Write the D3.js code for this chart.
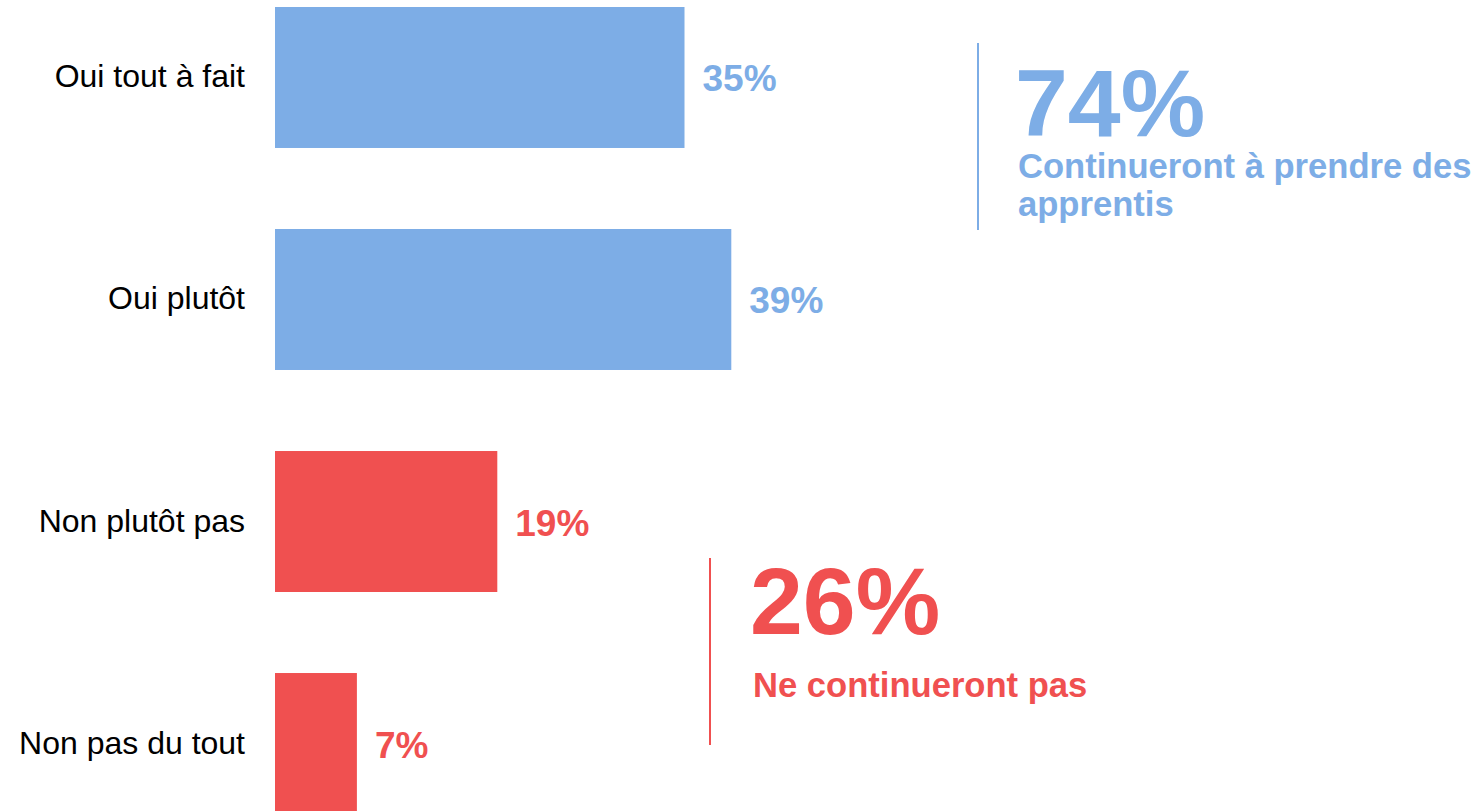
<!DOCTYPE html>
<html>
<head>
<meta charset="utf-8">
<script src="https://cdn.jsdelivr.net/npm/d3@7"></script>
<style>
  body { margin: 0; background: #fff; }
  text { font-family: "Liberation Sans", Arial, sans-serif; }
</style>
</head>
<body>
<div id="chart"></div>
<script>
const width = 1478
const height = 811

// données
const categories = ["Oui tout à fait", "Oui plutôt", "Non plutôt pas", "Non pas du tout"]
const values = [35, 39, 19, 7]
const groups = ["oui", "oui", "non", "non"]
const totals = [
    { group: "oui", value: 74, label: ["Continueront à prendre des", "apprentis"] },
    { group: "non", value: 26, label: ["Ne continueront pas"] }
]

const blue = "#7dade6"
const red = "#f05050"
const color = d3.scaleOrdinal().domain(["oui", "non"]).range([blue, red])

const data = categories.map((c, i) => ({ cat: c, value: values[i], group: groups[i] }))

const svg = d3.select("#chart")
    .append("svg")
    .attr("width", width)
    .attr("height", height)

const x = d3.scaleLinear().domain([0, 100]).range([275, 275 + 1170])
const y = d3.scaleBand().domain(categories).range([7, 814]).paddingInner(0.365).paddingOuter(0)

// barres
svg.selectAll("rect.bar")
    .data(data)
    .join("rect")
    .attr("class", "bar")
    .attr("x", x(0))
    .attr("y", d => y(d.cat))
    .attr("width", d => x(d.value) - x(0))
    .attr("height", y.bandwidth())
    .attr("fill", d => color(d.group))

// étiquettes des catégories
svg.selectAll("text.cat")
    .data(data)
    .join("text")
    .attr("class", "cat")
    .attr("x", 245)
    .attr("y", d => y(d.cat) + y.bandwidth() / 2 + 10)
    .attr("text-anchor", "end")
    .attr("font-size", 32)
    .attr("fill", "#000")
    .text(d => d.cat)

// valeurs
svg.selectAll("text.val")
    .data(data)
    .join("text")
    .attr("class", "val")
    .attr("x", d => x(d.value) + 18)
    .attr("y", d => y(d.cat) + y.bandwidth() / 2 + 14)
    .attr("font-size", 37)
    .attr("font-weight", "bold")
    .attr("fill", d => color(d.group))
    .text(d => d.value + "%")

// blocs totaux
const boxes = [
    { lineX: 978, y1: 43, y2: 230, tx: 1015, bigY: 136, subY: 178, gap: 38 },
    { lineX: 710, y1: 558, y2: 745, tx: 750, bigY: 634, subY: 697, gap: 38 }
]

totals.forEach((t, i) => {
    const b = boxes[i]
    const g = svg.append("g")
    g.append("line")
        .attr("x1", b.lineX).attr("x2", b.lineX)
        .attr("y1", b.y1).attr("y2", b.y2)
        .attr("stroke", color(t.group))
        .attr("stroke-width", 2)
    g.append("text")
        .attr("x", b.tx)
        .attr("y", b.bigY)
        .attr("font-size", 95)
        .attr("font-weight", "bold")
        .attr("fill", color(t.group))
        .text(t.value + "%")
    t.label.forEach((l, j) => {
        g.append("text")
            .attr("x", b.tx + 3)
            .attr("y", b.subY + j * b.gap)
            .attr("font-size", 34.6)
            .attr("font-weight", "bold")
            .attr("fill", color(t.group))
            .text(l)
    })
})
</script>
</body>
</html>
